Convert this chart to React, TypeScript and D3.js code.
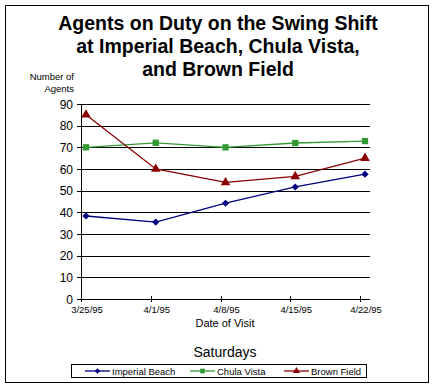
// @ts-nocheck
import * as d3 from "d3";
import { useEffect, useRef } from "react";

const dates = ["3/25/95", "4/1/95", "4/8/95", "4/15/95", "4/22/95"];
const imperialBeach = [38.3, 35.5, 44.2, 51.7, 57.6];
const chulaVista = [70, 72.1, 70, 72, 72.9];
const brownField = [85, 60, 53.8, 56.6, 65];
const yTicks = [0, 10, 20, 30, 40, 50, 60, 70, 80, 90];
const titleLines = ["Agents on Duty on the Swing Shift", "at Imperial Beach, Chula Vista,", "and Brown Field"];

const series = [
    { name: "Imperial Beach", values: imperialBeach, color: "#000080", marker: "diamond" },
    { name: "Chula Vista", values: chulaVista, color: "#339933", marker: "square" },
    { name: "Brown Field", values: brownField, color: "#8b0000", marker: "triangle" },
];

const FONT = "'Liberation Sans', Arial, sans-serif";

const App = () => {
    const ref = useRef(null);

    useEffect(() => {
        const svg = d3.select(ref.current);
        svg.selectAll("*").remove();

        const plot = { left: 81, right: 370, top: 104, bottom: 299 };

        const yScale = d3.scaleLinear().domain([0, 90]).range([plot.bottom, plot.top]);
        const xScale = d3.scalePoint().domain(dates).range([86, 365]);
        const tickShift = -5;

        // outer frame
        svg.append("rect")
            .attr("x", 5.5).attr("y", 5.5).attr("width", 423).attr("height", 377)
            .attr("fill", "#fff").attr("stroke", "#000").attr("stroke-width", 1);

        // title
        svg.append("g").selectAll("text").data(titleLines).enter()
            .append("text")
            .attr("x", 218)
            .attr("y", (d, i) => 30 + i * 23)
            .attr("text-anchor", "middle")
            .style("font-family", FONT)
            .style("font-weight", "bold")
            .style("font-size", "19.5px")
            .text(d => d);

        // y axis title
        svg.append("text").attr("x", 74).attr("y", 80).attr("text-anchor", "end")
            .style("font-family", FONT).style("font-size", "9.5px").text("Number of");
        svg.append("text").attr("x", 74).attr("y", 92).attr("text-anchor", "end")
            .style("font-family", FONT).style("font-size", "9.5px").text("Agents");

        // grid
        svg.selectAll("line.grid").data(yTicks.filter(d => d > 0)).enter()
            .append("line")
            .attr("class", "grid")
            .attr("x1", plot.left).attr("x2", plot.right)
            .attr("y1", d => Math.round(yScale(d)) + 0.5)
            .attr("y2", d => Math.round(yScale(d)) + 0.5)
            .attr("stroke", "#000").attr("stroke-width", 1);

        // y axis
        svg.append("line")
            .attr("x1", plot.left + 0.5).attr("x2", plot.left + 0.5)
            .attr("y1", plot.top).attr("y2", plot.bottom + 3)
            .attr("stroke", "#000");
        svg.selectAll("line.ytick").data(yTicks).enter()
            .append("line")
            .attr("x1", plot.left - 4).attr("x2", plot.left)
            .attr("y1", d => Math.round(yScale(d)) + 0.5)
            .attr("y2", d => Math.round(yScale(d)) + 0.5)
            .attr("stroke", "#000");
        svg.selectAll("text.ylab").data(yTicks).enter()
            .append("text")
            .attr("x", 73)
            .attr("y", d => yScale(d) + 4.5)
            .attr("text-anchor", "end")
            .style("font-family", FONT).style("font-size", "12px")
            .text(d => d);

        // x axis
        svg.append("line")
            .attr("x1", plot.left).attr("x2", plot.right)
            .attr("y1", plot.bottom + 0.5).attr("y2", plot.bottom + 0.5)
            .attr("stroke", "#000");
        svg.selectAll("line.xtick").data(dates).enter()
            .append("line")
            .attr("x1", d => Math.round(xScale(d) + tickShift) + 0.5)
            .attr("x2", d => Math.round(xScale(d) + tickShift) + 0.5)
            .attr("y1", plot.bottom - 3).attr("y2", plot.bottom + 3)
            .attr("stroke", "#000");
        svg.selectAll("text.xlab").data(dates).enter()
            .append("text")
            .attr("x", d => xScale(d) + 1)
            .attr("y", 313)
            .attr("text-anchor", "middle")
            .style("font-family", FONT).style("font-size", "9.5px")
            .text(d => d);

        svg.append("text").attr("x", 225).attr("y", 327).attr("text-anchor", "middle")
            .style("font-family", FONT).style("font-size", "11px").text("Date of Visit");
        svg.append("text").attr("x", 225).attr("y", 357).attr("text-anchor", "middle")
            .style("font-family", FONT).style("font-size", "14px").text("Saturdays");

        // series
        const line = d3.line().x((d, i) => xScale(dates[i])).y(d => yScale(d));
        const symbolFor = { diamond: d3.symbolSquare, square: d3.symbolSquare, triangle: d3.symbolTriangle };
        const sizeFor = { diamond: 26, square: 40, triangle: 40 };
        const rotateFor = { diamond: 45, square: 0, triangle: 0 };

        series.forEach(s => {
            svg.append("path")
                .attr("d", line(s.values))
                .attr("fill", "none")
                .attr("stroke", s.color)
                .attr("stroke-width", 1.3);
            svg.selectAll(null).data(s.values).enter()
                .append("path")
                .attr("d", d3.symbol().type(symbolFor[s.marker]).size(sizeFor[s.marker]))
                .attr("transform", (d, i) => `translate(${xScale(dates[i])},${yScale(d)}) rotate(${rotateFor[s.marker]})`)
                .attr("fill", s.color);
        });

        // legend
        const legend = svg.append("g");
        legend.append("rect")
            .attr("x", 71.5).attr("y", 364.5).attr("width", 295).attr("height", 13)
            .attr("fill", "#fff").attr("stroke", "#000");
        const legendX = [85, 190, 284];
        series.forEach((s, i) => {
            const x0 = legendX[i];
            legend.append("line")
                .attr("x1", x0).attr("x2", x0 + 25)
                .attr("y1", 371).attr("y2", 371)
                .attr("stroke", s.color).attr("stroke-width", 1.3);
            legend.append("path")
                .attr("d", d3.symbol().type(symbolFor[s.marker]).size(sizeFor[s.marker] * 0.55))
                .attr("transform", `translate(${x0 + 12.5},371) rotate(${rotateFor[s.marker]})`)
                .attr("fill", s.color);
            legend.append("text")
                .attr("x", x0 + 27).attr("y", 374.5)
                .style("font-family", FONT).style("font-size", "9.5px")
                .text(s.name);
        });
    }, []);

    return (
        <svg ref={ref} width={434} height={388}
            style={{ position: "absolute", left: 0, top: 0, background: "#fff" }} />
    );
};

export default App;
